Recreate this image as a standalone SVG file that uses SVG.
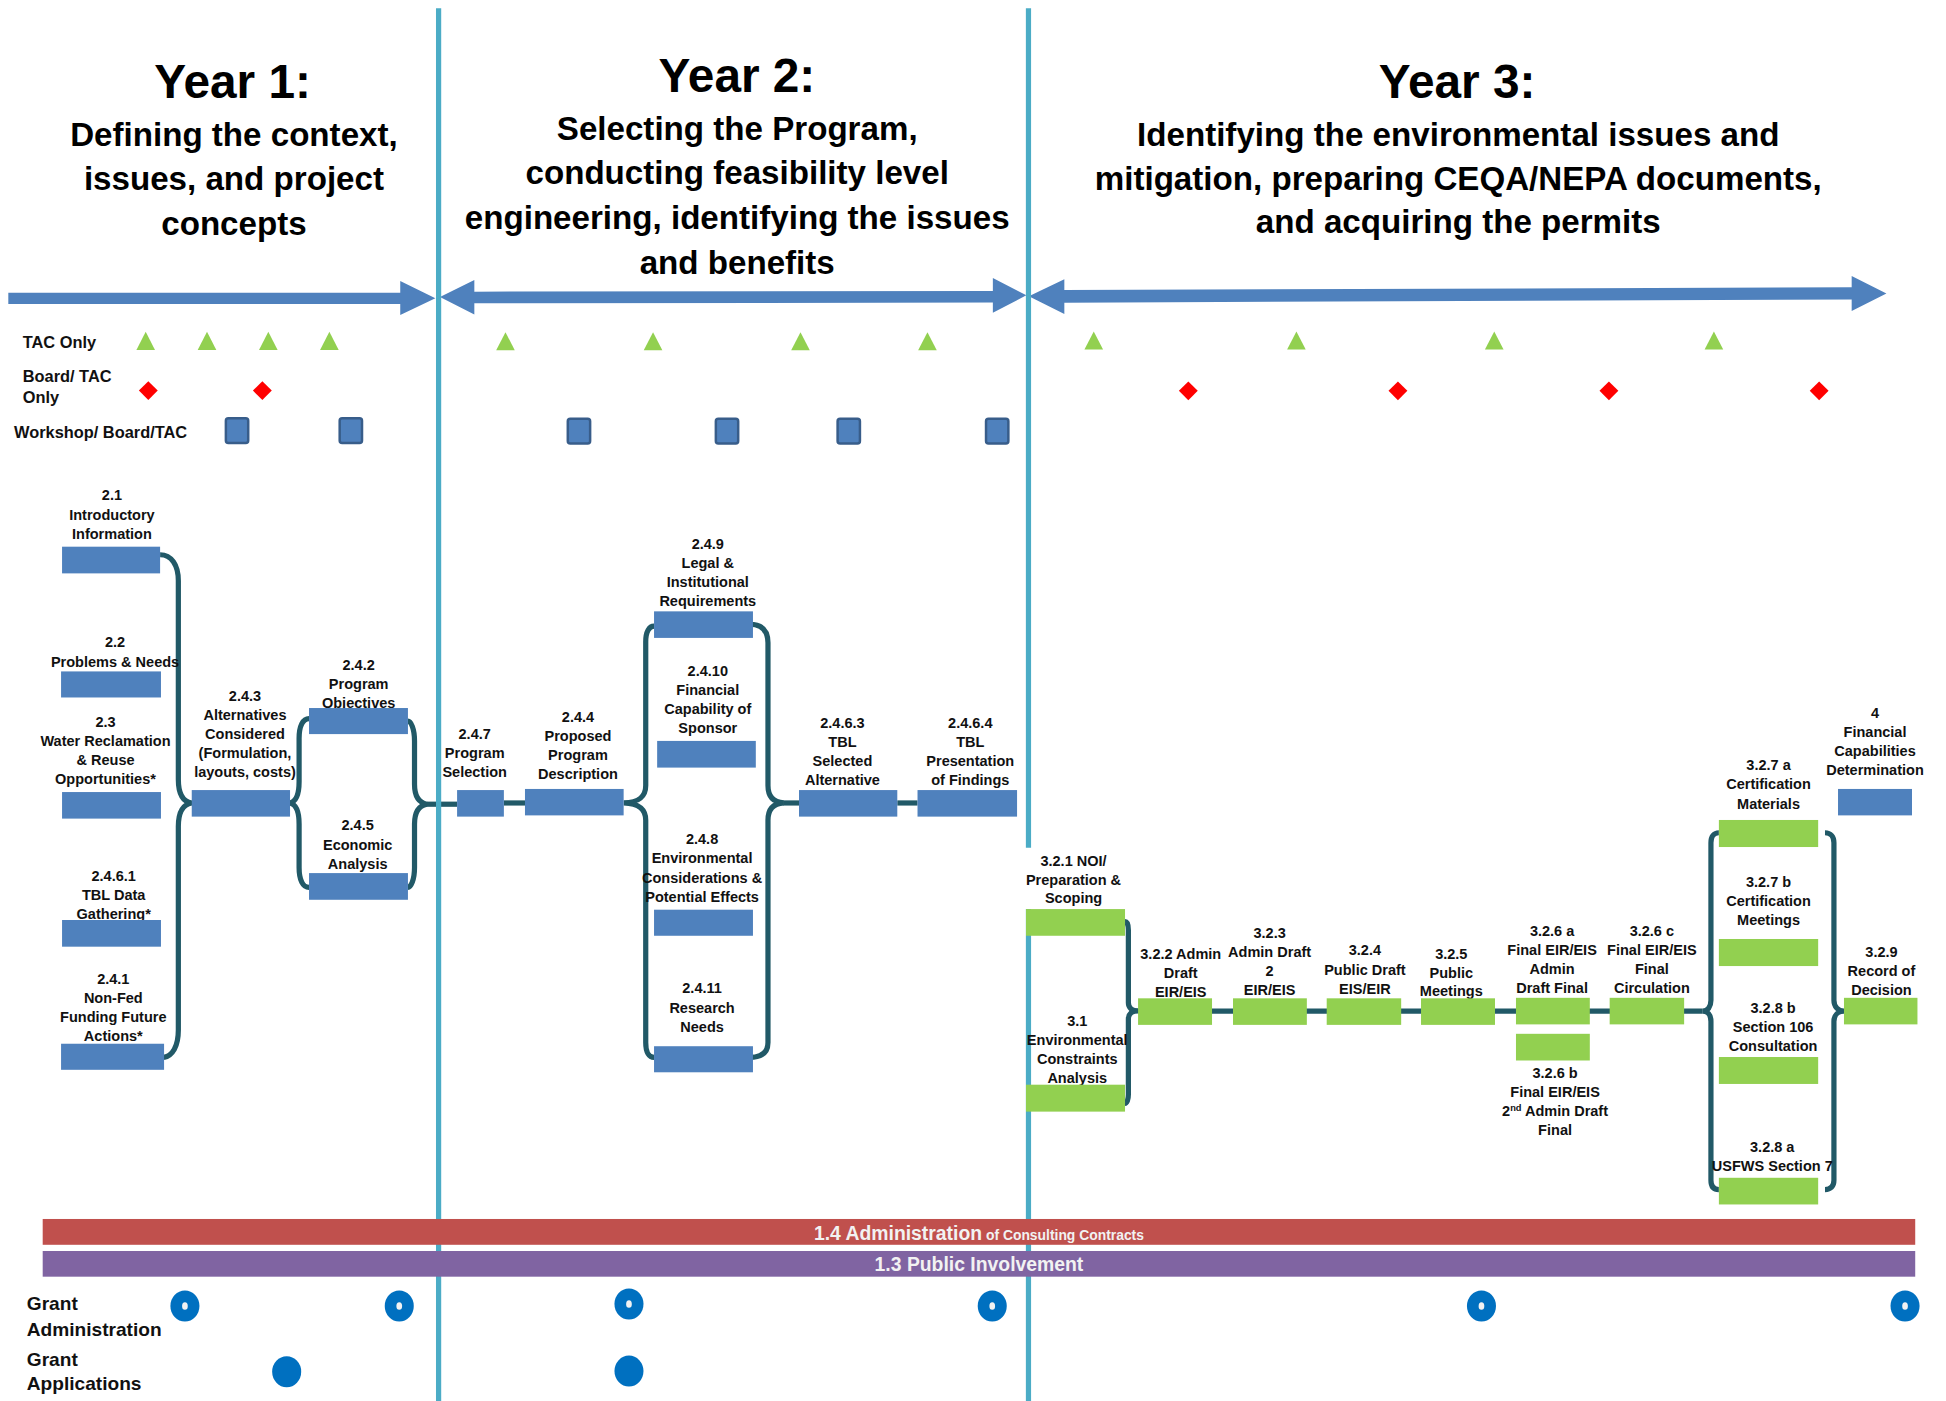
<svg xmlns="http://www.w3.org/2000/svg" width="1946" height="1401" viewBox="0 0 1946 1401">
<defs>
<style>
text{font-family:"Liberation Sans",Arial,sans-serif;font-weight:bold;fill:#111}
.lbl{font-size:11.7px;text-anchor:middle}
.yr{font-size:38.5px;text-anchor:middle;fill:#000}
.sub{font-size:26.7px;text-anchor:middle;fill:#000}
.leg{font-size:13.2px}
.gr{font-size:15.4px}
.bt{font-size:15.6px;text-anchor:middle;fill:#F2F2F2}
.bs{font-size:11.2px}
.blue{fill:#4F81BD}
.green{fill:#92D050}
.con{fill:none;stroke:#215967;stroke-width:4.2}
.div{stroke:#4BACC6;stroke-width:4.2;fill:none}
.arr{fill:#4F81BD}
</style>
<path id="tri" d="M-7.5,7.3 L0,-7.3 L7.5,7.3Z" fill="#92D050"/>
<path id="dia" d="M0,-7.6 L7.6,0 L0,7.6 L-7.6,0Z" fill="#FF0000"/>
<rect id="sq" x="-9" y="-10" width="18" height="20" rx="2" fill="#4F81BD" stroke="#385D8A" stroke-width="2"/>
<g id="ring"><ellipse rx="11.7" ry="12.5" fill="#0070C0"/><ellipse rx="2.3" ry="3.1" fill="#F2F2F2"/></g>
<ellipse id="dot" rx="11.7" ry="12.4" fill="#0070C0"/>
</defs>
<rect width="1946" height="1401" fill="#fff"/>
<g transform="scale(1.24107)">

<g id="headings">
<text class="yr" x="187.4" y="79.2">Year 1:</text>
<text class="sub" x="188.5" y="117.4">Defining the context,</text>
<text class="sub" x="188.5" y="153">issues, and project</text>
<text class="sub" x="188.5" y="189.3">concepts</text>
<text class="yr" x="593.8" y="73.9">Year 2:</text>
<text class="sub" x="594" y="112.8">Selecting the Program,</text>
<text class="sub" x="594" y="148.5">conducting feasibility level</text>
<text class="sub" x="594" y="184.8">engineering, identifying the issues</text>
<text class="sub" x="594" y="220.8">and benefits</text>
<text class="yr" x="1174" y="78.7">Year 3:</text>
<text class="sub" x="1175" y="117.4">Identifying the environmental issues and</text>
<text class="sub" x="1175" y="153">mitigation, preparing CEQA/NEPA documents,</text>
<text class="sub" x="1175" y="188">and acquiring the permits</text>
</g>

<g id="timeline-arrows">
<polygon class="arr" points="6.7,235.8 322.5,235.8 322.5,226.4 350.8,240.4 322.5,253.8 322.5,245 6.7,245"/>
<polygon class="arr" points="354.5,239.3 382.2,225.6 382.2,235 800,234.4 800,224 827,238 800,252 800,243.8 382.2,244.4 382.2,253.4"/>
<polygon class="arr" points="829,238.8 857.6,225 857.6,233.7 1492,231.5 1492,222.4 1520,236.5 1492,250.6 1492,241.3 857.6,243.9 857.6,253"/>
</g>

<g id="legend">
<text class="leg" x="18.3" y="280.7">TAC Only</text>
<text class="leg" x="18.3" y="307.5">Board/ TAC</text>
<text class="leg" x="18.3" y="325">Only</text>
<text class="leg" x="11.3" y="353.2">Workshop/ Board/TAC</text>
<use href="#tri" x="117.4" y="274.7"/><use href="#tri" x="166.8" y="274.7"/><use href="#tri" x="216.2" y="274.7"/><use href="#tri" x="265.4" y="274.7"/>
<use href="#tri" x="407.3" y="275"/><use href="#tri" x="526.2" y="275"/><use href="#tri" x="645" y="275"/><use href="#tri" x="747.3" y="275"/>
<use href="#tri" x="881.3" y="274.4"/><use href="#tri" x="1044.6" y="274.4"/><use href="#tri" x="1204" y="274.4"/><use href="#tri" x="1381" y="274.4"/>
<use href="#dia" x="119.5" y="314.7"/><use href="#dia" x="211.4" y="314.7"/>
<use href="#dia" x="957.5" y="314.9"/><use href="#dia" x="1126.4" y="314.9"/><use href="#dia" x="1296.4" y="314.9"/><use href="#dia" x="1465.8" y="314.9"/>
<use href="#sq" x="191" y="347"/><use href="#sq" x="282.7" y="347"/>
<use href="#sq" x="466.5" y="347.4"/><use href="#sq" x="585.8" y="347.4"/><use href="#sq" x="683.9" y="347.4"/><use href="#sq" x="803.5" y="347.4"/>
</g>

<g id="connectors">
<path class="con" d="M129,447 C138,447 143.7,455 143.7,468 L143.7,628 C143.7,640 148,646 154.5,647 C148,648 143.7,654 143.7,666 L143.7,830 C143.7,843 139,851 132,852"/>
<path class="con" d="M249,579 C244,579 241,585 241,595 L241,630 C241,641 238,646 233.7,647 C238,648 241,653 241,664 L241,699 C241,709 244,715 249,715"/>
<path class="con" d="M328.7,581 C331,581 334,587 334,597 L334,632 C334,642 338,647 344,648 C338,649 334,654 334,664 L334,699 C334,709 331,715 328.7,715"/>
<path class="con" d="M344,648 L368.3,648"/>
<path class="con" d="M406,647 L423,647"/>
<path class="con" d="M527,504.5 C523,504.5 520.3,509 520.3,517 L520.3,633 C520.3,642 515,646.5 502.6,647 C515,647.5 520.3,652 520.3,661 L520.3,840 C520.3,848 523,852 527,852"/>
<path class="con" d="M604,503 C614,503 618.8,508 618.8,518 L618.8,633 C618.8,642 623,646.5 631.4,647 C623,647.5 618.8,652 618.8,661 L618.8,840 C618.8,848 614,852 604,852"/>
<path class="con" d="M631,647 L644,647"/>
<path class="con" d="M723,647 L739.3,647"/>
<path class="con" d="M906.5,742.6 C908,742.6 909.2,745 909.2,749.5 L909.2,808 C909.2,812 912,814.6 917,814.6 C912,814.6 909.2,817 909.2,821 L909.2,882 C909.2,886 908,889 906.5,889"/>
<path class="con" d="M917,814.8 L1372,814.8"/>
<path class="con" d="M1385,671 C1381,671 1378.6,674 1378.6,679 L1378.6,806 C1378.6,811 1376,814.8 1372,814.8 C1376,814.8 1378.6,818 1378.6,823 L1378.6,951 C1378.6,956 1381,958.5 1385,958.5"/>
<path class="con" d="M1470.5,671 C1475,671 1477.7,674 1477.7,679 L1477.7,806 C1477.7,811 1481,814.8 1485.8,814.8 C1481,814.8 1477.7,818 1477.7,823 L1477.7,951 C1477.7,956 1475,958.5 1470.5,958.5"/>
</g>

<g id="dividers">
<line class="div" x1="353.4" y1="6.7" x2="353.4" y2="1130"/>
<line class="div" x1="828.7" y1="6.7" x2="828.7" y2="683"/>
<line class="div" x1="828.7" y1="732.5" x2="828.7" y2="1130"/>
</g>

<g id="n2-1"><text class="lbl"><tspan x="90.2" y="403">2.1</tspan><tspan x="90.2" y="419">Introductory</tspan><tspan x="90.2" y="434.3">Information</tspan></text><rect class="blue" x="50" y="440.5" width="79" height="21.5"/></g>
<g id="n2-2"><text class="lbl"><tspan x="92.7" y="521.3">2.2</tspan><tspan x="92.7" y="537.6">Problems &amp; Needs</tspan></text><rect class="blue" x="49.2" y="541" width="80.5" height="21"/></g>
<g id="n2-3"><text class="lbl"><tspan x="85" y="585.8">2.3</tspan><tspan x="85" y="601">Water Reclamation</tspan><tspan x="85" y="616.3">&amp; Reuse</tspan><tspan x="85" y="631.6">Opportunities*</tspan></text><rect class="blue" x="50" y="638.2" width="79.7" height="21.4"/></g>
<g id="n2-4-6-1"><text class="lbl"><tspan x="91.6" y="709.9">2.4.6.1</tspan><tspan x="91.6" y="725.2">TBL Data</tspan><tspan x="91.6" y="740.2">Gathering*</tspan></text><rect class="blue" x="50" y="741.3" width="79.7" height="21.5"/></g>
<g id="n2-4-1"><text class="lbl"><tspan x="91.3" y="792.9">2.4.1</tspan><tspan x="91.3" y="808.2">Non-Fed</tspan><tspan x="91.3" y="823.4">Funding Future</tspan><tspan x="91.3" y="838.7">Actions*</tspan></text><rect class="blue" x="49.2" y="841" width="83" height="21"/></g>
<g id="n2-4-3"><text class="lbl"><tspan x="197.4" y="564.7">2.4.3</tspan><tspan x="197.4" y="580.3">Alternatives</tspan><tspan x="197.4" y="595.6">Considered</tspan><tspan x="197.4" y="611">(Formulation,</tspan><tspan x="197.4" y="626.1">layouts, costs)</tspan></text><rect class="blue" x="154.5" y="636.6" width="79.2" height="21.4"/></g>
<g id="n2-4-2"><text class="lbl"><tspan x="289" y="539.9">2.4.2</tspan><tspan x="289" y="555.2">Program</tspan><tspan x="289" y="570.5">Objectives</tspan></text><rect class="blue" x="249" y="570.5" width="79.7" height="21"/></g>
<g id="n2-4-5"><text class="lbl"><tspan x="288.2" y="668.8">2.4.5</tspan><tspan x="288.2" y="684.5">Economic</tspan><tspan x="288.2" y="699.8">Analysis</tspan></text><rect class="blue" x="249" y="703.5" width="79.7" height="21.5"/></g>

<g id="n2-4-7"><text class="lbl"><tspan x="382.5" y="595.3">2.4.7</tspan><tspan x="382.5" y="610.6">Program</tspan><tspan x="382.5" y="626.2">Selection</tspan></text><rect class="blue" x="368.3" y="636.6" width="37.7" height="21.4"/></g>
<g id="n2-4-4"><text class="lbl"><tspan x="465.7" y="581.9">2.4.4</tspan><tspan x="465.7" y="597.2">Proposed</tspan><tspan x="465.7" y="612.4">Program</tspan><tspan x="465.7" y="627.7">Description</tspan></text><rect class="blue" x="423" y="635.7" width="79.5" height="21.3"/></g>
<g id="n2-4-9"><text class="lbl"><tspan x="570.3" y="442.4">2.4.9</tspan><tspan x="570.3" y="457.3">Legal &amp;</tspan><tspan x="570.3" y="472.6">Institutional</tspan><tspan x="570.3" y="487.9">Requirements</tspan></text><rect class="blue" x="527" y="492.6" width="79.7" height="21.4"/></g>
<g id="n2-4-10"><text class="lbl"><tspan x="570.3" y="544.8">2.4.10</tspan><tspan x="570.3" y="560">Financial</tspan><tspan x="570.3" y="575.2">Capability of</tspan><tspan x="570.3" y="590.5">Sponsor</tspan></text><rect class="blue" x="529.5" y="597" width="79.5" height="21.5"/></g>
<g id="n2-4-8"><text class="lbl"><tspan x="565.7" y="680.3">2.4.8</tspan><tspan x="565.7" y="695.6">Environmental</tspan><tspan x="565.7" y="711.5">Considerations &amp;</tspan><tspan x="565.7" y="726.8">Potential Effects</tspan></text><rect class="blue" x="527" y="733" width="79.7" height="21"/></g>
<g id="n2-4-11"><text class="lbl"><tspan x="565.7" y="800.1">2.4.11</tspan><tspan x="565.7" y="816">Research</tspan><tspan x="565.7" y="831.6">Needs</tspan></text><rect class="blue" x="527" y="843" width="79.7" height="21"/></g>
<g id="n2-4-6-3"><text class="lbl"><tspan x="678.8" y="586.6">2.4.6.3</tspan><tspan x="678.8" y="601.9">TBL</tspan><tspan x="678.8" y="617.2">Selected</tspan><tspan x="678.8" y="632.5">Alternative</tspan></text><rect class="blue" x="643.8" y="636.6" width="79.2" height="21.4"/></g>
<g id="n2-4-6-4"><text class="lbl"><tspan x="781.8" y="586.6">2.4.6.4</tspan><tspan x="781.8" y="601.9">TBL</tspan><tspan x="781.8" y="617.2">Presentation</tspan><tspan x="781.8" y="632.5">of Findings</tspan></text><rect class="blue" x="739.3" y="636.6" width="80.2" height="21.4"/></g>

<g id="n3-2-1"><text class="lbl"><tspan x="865" y="697.5">3.2.1 NOI/</tspan><tspan x="865" y="713">Preparation &amp;</tspan><tspan x="865" y="727.6">Scoping</tspan></text><rect class="green" x="826.7" y="732.5" width="79.8" height="21.5"/></g>
<g id="n3-1"><text class="lbl"><tspan x="868" y="826.7">3.1</tspan><tspan x="868" y="842">Environmental</tspan><tspan x="868" y="857.3">Constraints</tspan><tspan x="868" y="872.4">Analysis</tspan></text><rect class="green" x="826.7" y="874" width="79.8" height="21.7"/></g>
<g id="n3-2-2"><text class="lbl"><tspan x="951.4" y="772.7">3.2.2 Admin</tspan><tspan x="951.4" y="788">Draft</tspan><tspan x="951.4" y="803">EIR/EIS</tspan></text><rect class="green" x="917" y="804.4" width="59.6" height="21.4"/></g>
<g id="n3-2-3"><text class="lbl"><tspan x="1023" y="756">3.2.3</tspan><tspan x="1023" y="771">Admin Draft</tspan><tspan x="1023" y="786.5">2</tspan><tspan x="1023" y="802">EIR/EIS</tspan></text><rect class="green" x="993.5" y="804.4" width="59.5" height="21.4"/></g>
<g id="n3-2-4"><text class="lbl"><tspan x="1099.8" y="769.5">3.2.4</tspan><tspan x="1099.8" y="785.6">Public Draft</tspan><tspan x="1099.8" y="801">EIS/EIR</tspan></text><rect class="green" x="1069" y="804.4" width="60" height="21.4"/></g>
<g id="n3-2-5"><text class="lbl"><tspan x="1169.4" y="773">3.2.5</tspan><tspan x="1169.4" y="787.8">Public</tspan><tspan x="1169.4" y="802.5">Meetings</tspan></text><rect class="green" x="1145" y="804.4" width="59.6" height="21.4"/></g>
<g id="n3-2-6a"><text class="lbl"><tspan x="1250.6" y="754">3.2.6 a</tspan><tspan x="1250.6" y="769.8">Final EIR/EIS</tspan><tspan x="1250.6" y="785">Admin</tspan><tspan x="1250.6" y="800.4">Draft Final</tspan></text><rect class="green" x="1221.5" y="804" width="59.5" height="21.4"/></g>
<g id="n3-2-6b"><rect class="green" x="1221.5" y="833" width="59.5" height="21.5"/><text class="lbl"><tspan x="1253" y="868.9">3.2.6 b</tspan><tspan x="1253" y="884">Final EIR/EIS</tspan><tspan x="1253" y="899.4">2<tspan font-size="7.5px" dy="-4.2">nd</tspan><tspan dy="4.2"> Admin Draft</tspan></tspan><tspan x="1253" y="914.6">Final</tspan></text></g>
<g id="n3-2-6c"><text class="lbl"><tspan x="1331" y="754">3.2.6 c</tspan><tspan x="1331" y="769.8">Final EIR/EIS</tspan><tspan x="1331" y="785">Final</tspan><tspan x="1331" y="800.4">Circulation</tspan></text><rect class="green" x="1297" y="804" width="60" height="21.4"/></g>
<g id="n3-2-7a"><text class="lbl"><tspan x="1425" y="620.5">3.2.7 a</tspan><tspan x="1425" y="636">Certification</tspan><tspan x="1425" y="651.7">Materials</tspan></text><rect class="green" x="1385" y="660.7" width="80" height="21.8"/></g>
<g id="n3-2-7b"><text class="lbl"><tspan x="1425" y="714.9">3.2.7 b</tspan><tspan x="1425" y="730">Certification</tspan><tspan x="1425" y="745.4">Meetings</tspan></text><rect class="green" x="1385" y="756.6" width="80" height="21.8"/></g>
<g id="n3-2-8b"><text class="lbl"><tspan x="1428.7" y="816.2">3.2.8 b</tspan><tspan x="1428.7" y="831.5">Section 106</tspan><tspan x="1428.7" y="846.8">Consultation</tspan></text><rect class="green" x="1385" y="851.7" width="80" height="21.7"/></g>
<g id="n3-2-8a"><text class="lbl"><tspan x="1428" y="928.5">3.2.8 a</tspan><tspan x="1428" y="943.8">USFWS Section 7</tspan></text><rect class="green" x="1385" y="949" width="80" height="21.5"/></g>
<g id="n3-2-9"><text class="lbl"><tspan x="1516" y="771">3.2.9</tspan><tspan x="1516" y="786.5">Record of</tspan><tspan x="1516" y="801.7">Decision</tspan></text><rect class="green" x="1485.8" y="804" width="59.2" height="21.4"/></g>
<g id="n4"><text class="lbl"><tspan x="1510.8" y="578.4">4</tspan><tspan x="1510.8" y="594">Financial</tspan><tspan x="1510.8" y="609">Capabilities</tspan><tspan x="1510.8" y="624.5">Determination</tspan></text><rect class="blue" x="1481" y="635.7" width="59.6" height="21.3"/></g>

<g id="bars">
<rect x="34.4" y="982.2" width="1508.8" height="20.8" fill="#C0504D"/>
<text class="bt" x="788.8" y="999">1.4 Administration<tspan class="bs"> of Consulting Contracts</tspan></text>
<rect x="34.4" y="1008" width="1508.8" height="20.7" fill="#8064A2"/>
<text class="bt" x="788.8" y="1023.9">1.3 Public Involvement</text>
</g>

<g id="grants">
<text class="gr" x="21.6" y="1055.5">Grant</text>
<text class="gr" x="21.6" y="1076.5">Administration</text>
<text class="gr" x="21.6" y="1101">Grant</text>
<text class="gr" x="21.6" y="1120">Applications</text>
<use href="#ring" x="149" y="1052.3"/><use href="#ring" x="321.7" y="1052.3"/><use href="#ring" x="506.8" y="1050.7"/><use href="#ring" x="799.5" y="1052.3"/><use href="#ring" x="1193.7" y="1052.3"/><use href="#ring" x="1535" y="1052.3"/>
<use href="#dot" x="231" y="1105.3"/><use href="#dot" x="506.8" y="1104.7"/>
</g>
</g>
</svg>
